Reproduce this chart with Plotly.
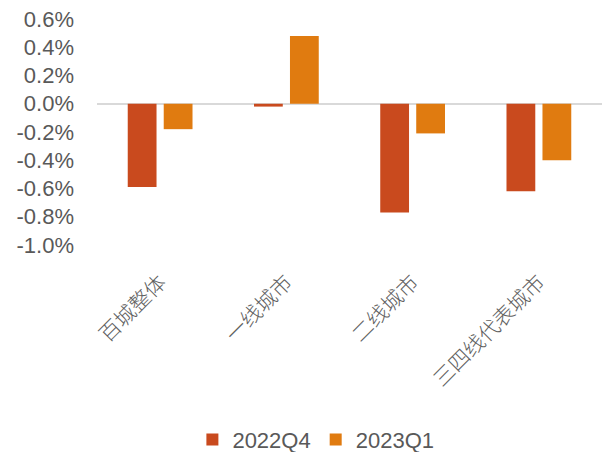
import plotly.graph_objects as go

# Quarterly change by city tier (percent)
categories = ["百城整体", "一线城市", "二线城市", "三四线代表城市"]
q4_2022 = [-0.59, -0.02, -0.77, -0.62]
q1_2023 = [-0.18, 0.48, -0.21, -0.40]
series_names = ["2022Q4", "2023Q1"]
y_ticks = [0.6, 0.4, 0.2, 0.0, -0.2, -0.4, -0.6, -0.8, -1.0]
y_tick_labels = [f"{v:.1f}%" for v in y_ticks]

RED = "#C94A1E"
ORANGE = "#E07B10"
TEXT = "#595959"
FONT = "Liberation Sans, Arial, Noto Sans CJK SC, sans-serif"

fig = go.Figure()
fig.add_trace(go.Bar(x=categories, y=q4_2022, name=series_names[0],
                     marker=dict(color=RED, line=dict(width=0))))
fig.add_trace(go.Bar(x=categories, y=q1_2023, name=series_names[1],
                     marker=dict(color=ORANGE, line=dict(width=0))))

fig.update_layout(
    width=604, height=452,
    margin=dict(l=97, r=2, t=19, b=207, autoexpand=False),
    paper_bgcolor="white", plot_bgcolor="white",
    barmode="group", bargap=0.43, bargroupgap=0.2,
    font=dict(family=FONT, color=TEXT, size=22),
    showlegend=True,
    legend=dict(orientation="h", xref="container", yref="container",
                x=0.523, xanchor="center", y=0.027, yanchor="middle",
                font=dict(size=22, color=TEXT), itemclick=False,
                traceorder="normal", itemwidth=30),
)
fig.update_yaxes(
    range=[-1.0005, 0.6005], tickvals=y_ticks, ticktext=y_tick_labels,
    showgrid=False, showline=False, ticks="",
    zeroline=True, zerolinecolor="#D9D9D9", zerolinewidth=1.5,
    ticklabelstandoff=22, tickfont=dict(size=22, color=TEXT),
)
fig.update_xaxes(
    showgrid=False, showline=False, ticks="", tickangle=-45,
    ticklabelstandoff=20,
    tickfont=dict(size=21, color="#606060", weight=300,
                  family="Noto Sans CJK SC, sans-serif"),
)

fig.write_html("out.html")
